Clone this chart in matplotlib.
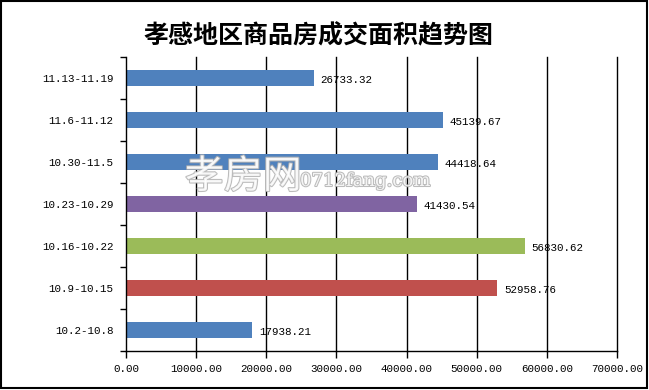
import matplotlib
matplotlib.use("Agg")
import matplotlib.pyplot as plt
import matplotlib.patheffects as pe
from matplotlib.patches import Rectangle
import numpy as np

# 数据 (从下到上)
periods = ["10.2-10.8", "10.9-10.15", "10.16-10.22", "10.23-10.29",
           "10.30-11.5", "11.6-11.12", "11.13-11.19"]
areas = [17938.21, 52958.76, 56830.62, 41430.54, 44418.64, 45139.67, 26733.32]
bar_colors = ["#4F81BD", "#C0504D", "#9BBB59", "#8064A2",
              "#4F81BD", "#4F81BD", "#4F81BD"]
xticks = [0, 10000, 20000, 30000, 40000, 50000, 60000, 70000]

mono = "Liberation Mono"
cjk = ["Noto Sans CJK SC", "DejaVu Sans"]

fig = plt.figure(figsize=(6.49, 3.90), dpi=100)
ax = fig.add_axes([126/649, 39/390, 491/649, 294/390])

y = np.arange(len(periods))
ax.barh(y, areas, height=0.4, color=bar_colors, zorder=2)

# 数据标签
for yi, v in zip(y, areas):
    ax.text(v + 1000, yi - 0.05, f"{v:.2f}", va="center", ha="left",
            fontsize=7.8, family=mono, color="black", zorder=3)

ax.set_xlim(0, 70000)
ax.set_ylim(-0.5, len(periods) - 0.5)
ax.set_xticks(xticks)
ax.set_xticklabels([f"{t:.2f}" for t in xticks], family=mono, fontsize=7.8)
ax.set_yticks(y)
ax.set_yticklabels(periods, family=mono, fontsize=7.8)
ax.set_yticks(np.arange(-0.5, len(periods)), minor=True)
ax.tick_params(axis="y", which="major", length=0, pad=9)
ax.tick_params(axis="y", which="minor", length=4, width=1, direction="out")
ax.tick_params(axis="x", length=5, width=1, direction="out", pad=4)

# 竖向网格线 (含 70000 处)
for t in xticks[1:]:
    ax.axvline(t, color="black", linewidth=1, zorder=1, clip_on=False)
for s in ["top", "right"]:
    ax.spines[s].set_visible(False)
for s in ["left", "bottom"]:
    ax.spines[s].set_linewidth(1)

# 标题
fig.text(0.49, 0.907, "孝感地区商品房成交面积趋势图", ha="center", va="center",
         fontsize=18, family=cjk, fontweight="bold")

# 水印
wm_fx = [pe.Stroke(linewidth=1.5, foreground="#b0b0b0"), pe.Normal()]
fig.text(185/649, 1 - 177/390, "孝房网", fontsize=28, family=cjk, color="white",
         alpha=0.85, va="center", ha="left", path_effects=wm_fx, zorder=5)
fig.text(300/649, 1 - 181/390, "0712fang.com", fontsize=13, family="DejaVu Serif",
         color="white", alpha=0.85, va="center", ha="left", path_effects=wm_fx, zorder=5)

# 外框
fig.patches.append(Rectangle((1/649, 2/390), 646/649, 387/390, transform=fig.transFigure,
                             fill=False, edgecolor="black", linewidth=1.5))

fig.savefig("out.png", dpi=100)
